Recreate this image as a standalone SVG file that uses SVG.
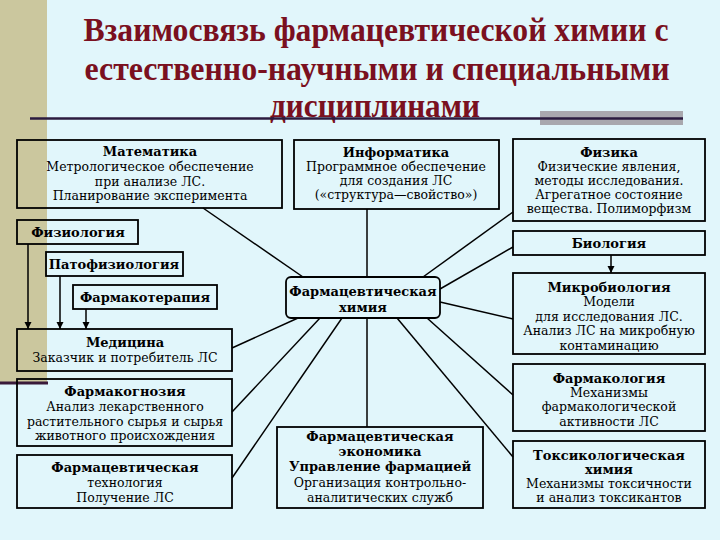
<svg xmlns="http://www.w3.org/2000/svg" width="720" height="540" viewBox="0 0 720 540">
<defs>
<style>
.box{fill:none;stroke:#000;stroke-width:1.8}
.ln{stroke:#000;stroke-width:1.5;fill:none}
.t{font-family:"DejaVu Serif","Liberation Serif",serif;font-weight:bold;font-size:13px;fill:#000;text-anchor:middle}
.s{font-family:"DejaVu Serif","Liberation Serif",serif;font-size:12.5px;fill:#000;text-anchor:middle}
.h{font-family:"Liberation Serif",serif;font-weight:bold;font-size:34px;fill:#7A1020;text-anchor:middle}
</style>
<marker id="ar" viewBox="0 0 10 10" refX="10" refY="5" markerWidth="7" markerHeight="8" markerUnits="userSpaceOnUse" orient="auto">
<path d="M0,0 L10,5 L0,10 z" fill="#000"/>
</marker>
</defs>
<rect width="720" height="540" fill="#E1F6FB"/>
<rect x="0" y="0" width="47" height="382" fill="#CBC79E"/>
<line x1="0" y1="383" x2="48" y2="383" stroke="#3A1A3A" stroke-width="3"/>
<g id="title">
<text class="h" x="376" y="41" textLength="585" lengthAdjust="spacingAndGlyphs">Взаимосвязь фармацевтической химии с</text>
<text class="h" x="377" y="80" textLength="585" lengthAdjust="spacingAndGlyphs">естественно-научными и специальными</text>
<text class="h" x="375" y="117" textLength="210" lengthAdjust="spacingAndGlyphs">дисциплинами</text>
</g>
<rect x="540" y="111" width="143" height="14" fill="#A9A8AE"/>
<line x1="30" y1="118.5" x2="683" y2="118.5" stroke="#2B1B3F" stroke-width="2.5"/>
<g id="connectors">
<line class="ln" x1="203" y1="208" x2="303" y2="277"/>
<line class="ln" x1="367" y1="209" x2="367" y2="277"/>
<line class="ln" x1="513" y1="212" x2="423" y2="277"/>
<line class="ln" x1="513" y1="247" x2="440" y2="289"/>
<line class="ln" x1="440" y1="302" x2="513" y2="319"/>
<line class="ln" x1="427" y1="318" x2="513" y2="395"/>
<line class="ln" x1="397" y1="318" x2="513" y2="457"/>
<line class="ln" x1="367" y1="318" x2="367" y2="427"/>
<line class="ln" x1="232" y1="348" x2="298" y2="318"/>
<line class="ln" x1="232" y1="412" x2="320" y2="318"/>
<line class="ln" x1="232" y1="478" x2="342" y2="318"/>
<line class="ln" x1="28" y1="244" x2="28" y2="329" marker-end="url(#ar)"/>
<line class="ln" x1="60" y1="276" x2="60" y2="329" marker-end="url(#ar)"/>
<line class="ln" x1="86" y1="309" x2="86" y2="329" marker-end="url(#ar)"/>
<line class="ln" x1="611" y1="255" x2="611" y2="273" marker-end="url(#ar)"/>
</g>
<g id="matematika">
<rect class="box" x="17" y="140" width="265" height="68"/>
<text class="t" x="150" y="156">Математика</text>
<text class="s" x="150" y="171">Метрологическое обеспечение</text>
<text class="s" x="150" y="186">при анализе ЛС.</text>
<text class="s" x="150" y="200">Планирование эксперимента</text>
</g>
<g id="informatika">
<rect class="box" x="294" y="140" width="205" height="69"/>
<text class="t" x="396" y="157">Информатика</text>
<text class="s" x="396" y="171">Программное обеспечение</text>
<text class="s" x="396" y="185">для создания ЛС</text>
<text class="s" x="396" y="199">(«структура—свойство»)</text>
</g>
<g id="fizika">
<rect class="box" x="513" y="139" width="192" height="82"/>
<text class="t" x="609" y="157">Физика</text>
<text class="s" x="609" y="171">Физические явления,</text>
<text class="s" x="609" y="185">методы исследования.</text>
<text class="s" x="609" y="199">Агрегатное состояние</text>
<text class="s" x="609" y="213">вещества. Полиморфизм</text>
</g>
<g id="fiziologiya">
<rect class="box" x="17" y="220" width="121" height="24"/>
<text class="t" x="78" y="237">Физиология</text>
</g>
<g id="patofiziologiya">
<rect class="box" x="46" y="252" width="137" height="24"/>
<text class="t" x="114" y="269">Патофизиология</text>
</g>
<g id="farmakoterapiya">
<rect class="box" x="73" y="285" width="144" height="24"/>
<text class="t" x="145" y="302">Фармакотерапия</text>
</g>
<g id="biologiya">
<rect class="box" x="513" y="231" width="192" height="24"/>
<text class="t" x="609" y="248">Биология</text>
</g>
<g id="farmhimiya">
<rect class="box" x="286" y="277" width="154" height="41" rx="5"/>
<text class="t" x="363" y="296">Фармацевтическая</text>
<text class="t" x="363" y="312">химия</text>
</g>
<g id="mikrobiologiya">
<rect class="box" x="513" y="273" width="192" height="81"/>
<text class="t" x="609" y="292">Микробиология</text>
<text class="s" x="609" y="306">Модели</text>
<text class="s" x="609" y="321">для исследования ЛС.</text>
<text class="s" x="609" y="335">Анализ ЛС на микробную</text>
<text class="s" x="609" y="350">контаминацию</text>
</g>
<g id="medicina">
<rect class="box" x="17" y="329" width="215" height="42"/>
<text class="t" x="125" y="347">Медицина</text>
<text class="s" x="125" y="362">Заказчик и потребитель ЛС</text>
</g>
<g id="farmakognoziya">
<rect class="box" x="17" y="379" width="215" height="67"/>
<text class="t" x="125" y="396">Фармакогнозия</text>
<text class="s" x="125" y="411">Анализ лекарственного</text>
<text class="s" x="125" y="426">растительного сырья и сырья</text>
<text class="s" x="125" y="440">животного происхождения</text>
</g>
<g id="farmakologiya">
<rect class="box" x="513" y="364" width="192" height="67"/>
<text class="t" x="609" y="383">Фармакология</text>
<text class="s" x="609" y="397">Механизмы</text>
<text class="s" x="609" y="411">фармакологической</text>
<text class="s" x="609" y="426">активности ЛС</text>
</g>
<g id="tehnologiya">
<rect class="box" x="17" y="455" width="215" height="53"/>
<text class="t" x="125" y="472">Фармацевтическая</text>
<text class="s" x="125" y="487">технология</text>
<text class="s" x="125" y="502">Получение ЛС</text>
</g>
<g id="ekonomika">
<rect class="box" x="277" y="427" width="206" height="81"/>
<text class="t" x="380" y="441">Фармацевтическая</text>
<text class="t" x="380" y="456">экономика</text>
<text class="t" x="380" y="471">Управление фармацией</text>
<text class="s" x="380" y="487">Организация контрольно-</text>
<text class="s" x="380" y="502">аналитических служб</text>
</g>
<g id="toksikologiya">
<rect class="box" x="513" y="441" width="192" height="67"/>
<text class="t" x="609" y="460">Токсикологическая</text>
<text class="t" x="609" y="474">химия</text>
<text class="s" x="609" y="488">Механизмы токсичности</text>
<text class="s" x="609" y="502">и анализ токсикантов</text>
</g>
</svg>
